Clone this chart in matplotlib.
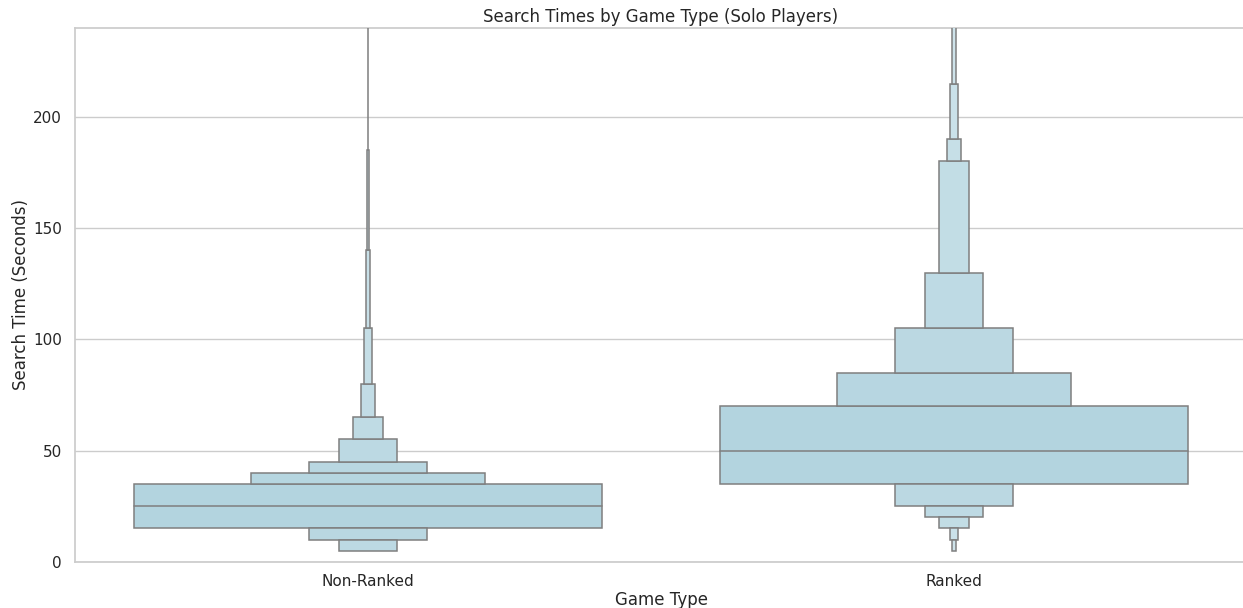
import numpy as np
import matplotlib
matplotlib.use("Agg")
import matplotlib.pyplot as plt
import seaborn as sns

# letter values per group: (lower, upper) for each depth, innermost first
game_types = ["Non-Ranked", "Ranked"]
medians = [25, 50]
nonranked_lower = [15, 15, 10, 5, 5, 5, 5, 5, 5, 5]
nonranked_upper = [35, 40, 45, 55, 65, 80, 105, 140, 185, 300]
ranked_lower = [35, 35, 25, 20, 15, 15, 10, 5]
ranked_upper = [70, 85, 105, 130, 180, 190, 215, 300]

sns.set_theme(style="whitegrid")

fig = plt.figure(figsize=(12.43, 6.08), dpi=100)
ax = fig.add_axes([0.0603, 0.076, 0.943, 0.878])

base = np.array([179, 212, 223]) / 255.0
edge = "#7f7f7f"
lw = 1.1
full_width = 0.8


def level_color(k, n):
    t = 0.35 * k / max(n - 1, 1)
    return tuple(base + (1 - base) * t)


def draw_boxen(x, lows, highs, med):
    n = len(lows)
    for k in range(n):
        w = full_width * 0.5 ** k
        c = level_color(k, n)
        if k == 0:
            ax.bar(x, highs[0] - lows[0], bottom=lows[0], width=w, color=c,
                   edgecolor=edge, linewidth=lw, zorder=2 + k)
            continue
        lo_h = lows[k - 1] - lows[k]
        hi_h = highs[k] - highs[k - 1]
        if lo_h > 0:
            ax.bar(x, lo_h, bottom=lows[k], width=w, color=c,
                   edgecolor=edge, linewidth=lw, zorder=2 + k)
        if hi_h > 0:
            ax.bar(x, hi_h, bottom=highs[k - 1], width=w, color=c,
                   edgecolor=edge, linewidth=lw, zorder=2 + k)
    ax.plot([x - full_width / 2, x + full_width / 2], [med, med],
            color=edge, linewidth=lw, zorder=20)


draw_boxen(0, nonranked_lower, nonranked_upper, medians[0])
draw_boxen(1, ranked_lower, ranked_upper, medians[1])

ax.set_xlim(-0.5, 1.5)
ax.set_ylim(0, 240)
ax.set_xticks(range(len(game_types)))
ax.set_xticklabels(game_types)
ax.set_yticks([0, 50, 100, 150, 200])
ax.grid(axis="x", visible=False)
ax.set_axisbelow(True)

ax.set_title("Search Times by Game Type (Solo Players)", fontsize=12, pad=4)
ax.set_xlabel("Game Type", fontsize=12, labelpad=1)
ax.set_ylabel("Search Time (Seconds)", fontsize=12, labelpad=2)
ax.tick_params(axis="x", labelsize=11, pad=3)
ax.tick_params(axis="y", labelsize=11)

fig.savefig("out.png", dpi=100)
